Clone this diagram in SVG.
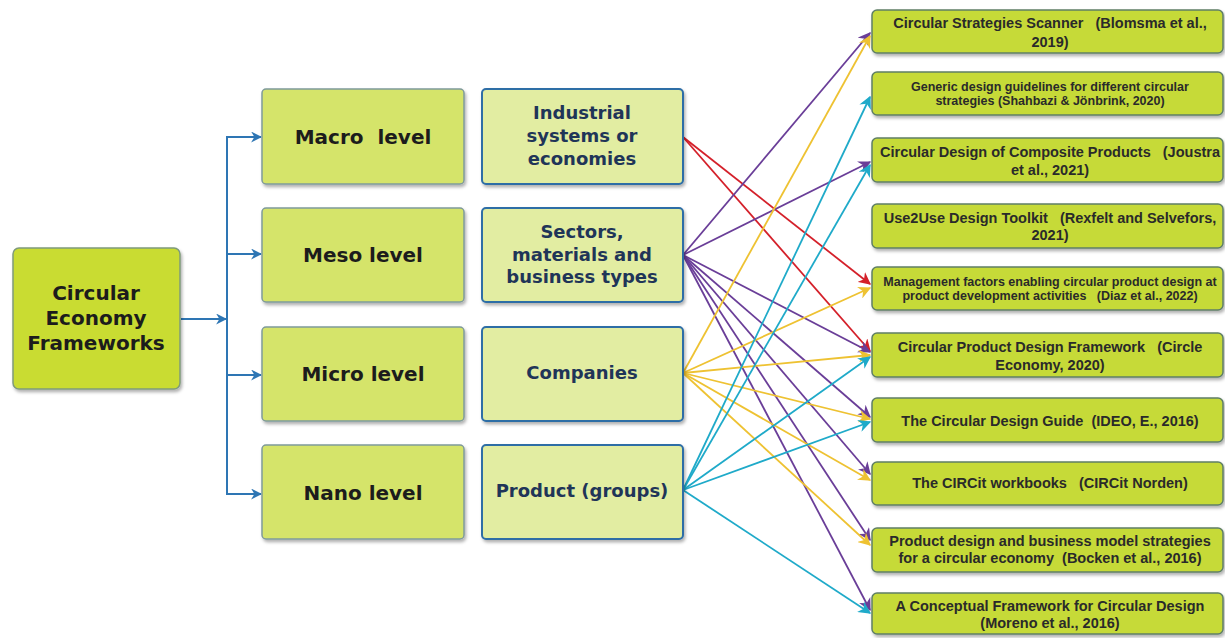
<svg xmlns="http://www.w3.org/2000/svg" width="1225" height="638" viewBox="0 0 1225 638">
<style>
.main{fill:#c9dc30;stroke:#7f9a7a;stroke-width:1.5}
.lvl{fill:#d5e46b;stroke:#7f9a9a;stroke-width:1.5}
.mid{fill:#e2eda2;stroke:#2f6ea6;stroke-width:2}
.ref{fill:#c6da38;stroke:#5f7f66;stroke-width:1.5}
.t1{font-family:"DejaVu Sans",Verdana,sans-serif;font-weight:bold;font-size:20px;fill:#1c1c1c;text-anchor:middle}
.t2{font-family:"DejaVu Sans",Verdana,sans-serif;font-weight:bold;font-size:18px;fill:#1f3558;text-anchor:middle}
.t3{font-family:"Liberation Sans",Arial,sans-serif;font-weight:bold;font-size:14.5px;fill:#2a2a2a;text-anchor:middle}
.t4{font-family:"Liberation Sans",Arial,sans-serif;font-weight:bold;font-size:12.5px;fill:#2a2a2a;text-anchor:middle}
.blue{stroke:#2e76b4;stroke-width:2;fill:none}
.red{stroke:#d4202a;stroke-width:1.8;fill:none}
.pur{stroke:#6a3e98;stroke-width:1.8;fill:none}
.yel{stroke:#eec232;stroke-width:1.8;fill:none}
.cya{stroke:#1faac9;stroke-width:1.8;fill:none}
</style>
<defs>
<filter id="sh" x="-10%" y="-10%" width="125%" height="140%">
<feDropShadow dx="1.5" dy="2.5" stdDeviation="1.8" flood-color="#000" flood-opacity="0.3"/>
</filter>
<marker id="mb" viewBox="0 0 10 10" refX="9" refY="5" markerWidth="5.5" markerHeight="5.5" orient="auto" markerUnits="strokeWidth"><path d="M0,0 L10,5 L0,10 L3,5 Z" fill="#2e76b4"/></marker>
<marker id="mr" viewBox="0 0 10 10" refX="9" refY="5" markerWidth="7" markerHeight="7" orient="auto" markerUnits="strokeWidth"><path d="M0,0 L10,5 L0,10 L3,5 Z" fill="#d4202a"/></marker>
<marker id="mp" viewBox="0 0 10 10" refX="9" refY="5" markerWidth="7" markerHeight="7" orient="auto" markerUnits="strokeWidth"><path d="M0,0 L10,5 L0,10 L3,5 Z" fill="#6a3e98"/></marker>
<marker id="my" viewBox="0 0 10 10" refX="9" refY="5" markerWidth="7" markerHeight="7" orient="auto" markerUnits="strokeWidth"><path d="M0,0 L10,5 L0,10 L3,5 Z" fill="#eec232"/></marker>
<marker id="mc" viewBox="0 0 10 10" refX="9" refY="5" markerWidth="7" markerHeight="7" orient="auto" markerUnits="strokeWidth"><path d="M0,0 L10,5 L0,10 L3,5 Z" fill="#1faac9"/></marker>
</defs>
<rect width="1225" height="638" fill="#ffffff"/>

<g id="connectors">
<line class="blue" x1="181" y1="319" x2="226" y2="319" marker-end="url(#mb)"/>
<polyline class="blue" points="261,137 227,137 227,494 261,494" marker-end="url(#mb)"/>
<line class="blue" x1="227" y1="137" x2="261" y2="137" marker-end="url(#mb)"/>
<line class="blue" x1="227" y1="254" x2="261" y2="254" marker-end="url(#mb)"/>
<line class="blue" x1="227" y1="375" x2="261" y2="375" marker-end="url(#mb)"/>
<g id="from-industrial">
<line class="red" x1="683" y1="137" x2="870" y2="284" marker-end="url(#mr)"/>
<line class="red" x1="683" y1="137" x2="870" y2="351" marker-end="url(#mr)"/>
</g>
<g id="from-sectors">
<line class="pur" x1="683" y1="255" x2="870" y2="33" marker-end="url(#mp)"/>
<line class="pur" x1="683" y1="255" x2="870" y2="162" marker-end="url(#mp)"/>
<line class="pur" x1="683" y1="255" x2="870" y2="352" marker-end="url(#mp)"/>
<line class="pur" x1="683" y1="255" x2="870" y2="417" marker-end="url(#mp)"/>
<line class="pur" x1="683" y1="255" x2="870" y2="474" marker-end="url(#mp)"/>
<line class="pur" x1="683" y1="255" x2="870" y2="540" marker-end="url(#mp)"/>
<line class="pur" x1="683" y1="255" x2="870" y2="610" marker-end="url(#mp)"/>
</g>
<g id="from-companies">
<line class="yel" x1="683" y1="373" x2="870" y2="36" marker-end="url(#my)"/>
<line class="yel" x1="683" y1="373" x2="870" y2="288" marker-end="url(#my)"/>
<line class="yel" x1="683" y1="373" x2="870" y2="355" marker-end="url(#my)"/>
<line class="yel" x1="683" y1="373" x2="870" y2="419" marker-end="url(#my)"/>
<line class="yel" x1="683" y1="373" x2="870" y2="480" marker-end="url(#my)"/>
<line class="yel" x1="683" y1="373" x2="870" y2="545" marker-end="url(#my)"/>
</g>
<g id="from-product">
<line class="cya" x1="683" y1="490" x2="870" y2="97" marker-end="url(#mc)"/>
<line class="cya" x1="683" y1="490" x2="870" y2="165" marker-end="url(#mc)"/>
<line class="cya" x1="683" y1="490" x2="870" y2="357" marker-end="url(#mc)"/>
<line class="cya" x1="683" y1="490" x2="870" y2="422" marker-end="url(#mc)"/>
<line class="cya" x1="683" y1="490" x2="870" y2="613" marker-end="url(#mc)"/>
</g>
</g>

<g id="circular-economy-frameworks">
<rect class="main" x="13" y="248" width="167" height="141" rx="6" filter="url(#sh)"/>
<text class="t1" x="96" y="300">Circular</text>
<text class="t1" x="96" y="325">Economy</text>
<text class="t1" x="96" y="350">Frameworks</text>
</g>

<g id="macro-level">
<rect class="lvl" x="262" y="89" width="202" height="95" rx="4" filter="url(#sh)"/>
<text class="t1" x="363" y="144" xml:space="preserve">Macro  level</text>
</g>
<g id="meso-level">
<rect class="lvl" x="262" y="208" width="202" height="94" rx="4" filter="url(#sh)"/>
<text class="t1" x="363" y="262">Meso level</text>
</g>
<g id="micro-level">
<rect class="lvl" x="262" y="327" width="202" height="94" rx="4" filter="url(#sh)"/>
<text class="t1" x="363" y="381">Micro level</text>
</g>
<g id="nano-level">
<rect class="lvl" x="262" y="445" width="202" height="94" rx="4" filter="url(#sh)"/>
<text class="t1" x="363" y="500">Nano level</text>
</g>

<g id="industrial-systems">
<rect class="mid" x="482" y="89" width="201" height="95" rx="4" filter="url(#sh)"/>
<text class="t2" x="582" y="119">Industrial</text>
<text class="t2" x="582" y="142">systems or</text>
<text class="t2" x="582" y="165">economies</text>
</g>
<g id="sectors">
<rect class="mid" x="482" y="208" width="201" height="94" rx="4" filter="url(#sh)"/>
<text class="t2" x="582" y="238">Sectors,</text>
<text class="t2" x="582" y="261">materials and</text>
<text class="t2" x="582" y="283">business types</text>
</g>
<g id="companies">
<rect class="mid" x="482" y="327" width="201" height="94" rx="4" filter="url(#sh)"/>
<text class="t2" x="582" y="379">Companies</text>
</g>
<g id="product-groups">
<rect class="mid" x="482" y="445" width="201" height="94" rx="4" filter="url(#sh)"/>
<text class="t2" x="582" y="497">Product (groups)</text>
</g>

<g id="ref-1">
<rect class="ref" x="872" y="10" width="351" height="43" rx="5" filter="url(#sh)"/>
<text class="t3" x="1050" y="28" xml:space="preserve">Circular Strategies Scanner   (Blomsma et al.,</text>
<text class="t3" x="1050" y="47">2019)</text>
</g>
<g id="ref-2">
<rect class="ref" x="872" y="72" width="351" height="43" rx="5" filter="url(#sh)"/>
<text class="t4" x="1050" y="91">Generic design guidelines for different circular</text>
<text class="t4" x="1050" y="105">strategies (Shahbazi &amp; Jönbrink, 2020)</text>
</g>
<g id="ref-3">
<rect class="ref" x="872" y="138" width="351" height="44" rx="5" filter="url(#sh)"/>
<text class="t3" x="1050" y="157" xml:space="preserve">Circular Design of Composite Products   (Joustra</text>
<text class="t3" x="1050" y="175">et al., 2021)</text>
</g>
<g id="ref-4">
<rect class="ref" x="872" y="204" width="351" height="44" rx="5" filter="url(#sh)"/>
<text class="t3" x="1050" y="223" xml:space="preserve">Use2Use Design Toolkit   (Rexfelt and Selvefors,</text>
<text class="t3" x="1050" y="240">2021)</text>
</g>
<g id="ref-5">
<rect class="ref" x="872" y="267" width="351" height="43" rx="5" filter="url(#sh)"/>
<text class="t4" x="1050" y="286">Management factors enabling circular product design at</text>
<text class="t4" x="1050" y="300" xml:space="preserve">product development activities   (Diaz et al., 2022)</text>
</g>
<g id="ref-6">
<rect class="ref" x="872" y="333" width="351" height="44" rx="5" filter="url(#sh)"/>
<text class="t3" x="1050" y="352" xml:space="preserve">Circular Product Design Framework   (Circle</text>
<text class="t3" x="1050" y="370">Economy, 2020)</text>
</g>
<g id="ref-7">
<rect class="ref" x="872" y="398" width="351" height="44" rx="5" filter="url(#sh)"/>
<text class="t3" x="1050" y="426" xml:space="preserve">The Circular Design Guide  (IDEO, E., 2016)</text>
</g>
<g id="ref-8">
<rect class="ref" x="872" y="462" width="351" height="43" rx="5" filter="url(#sh)"/>
<text class="t3" x="1050" y="488" xml:space="preserve">The CIRCit workbooks   (CIRCit Norden)</text>
</g>
<g id="ref-9">
<rect class="ref" x="872" y="528" width="351" height="44" rx="5" filter="url(#sh)"/>
<text class="t3" x="1050" y="546">Product design and business model strategies</text>
<text class="t3" x="1050" y="563" xml:space="preserve">for a circular economy  (Bocken et al., 2016)</text>
</g>
<g id="ref-10">
<rect class="ref" x="872" y="593" width="351" height="41" rx="5" filter="url(#sh)"/>
<text class="t3" x="1050" y="611">A Conceptual Framework for Circular Design</text>
<text class="t3" x="1050" y="628">(Moreno et al., 2016)</text>
</g>
</svg>
